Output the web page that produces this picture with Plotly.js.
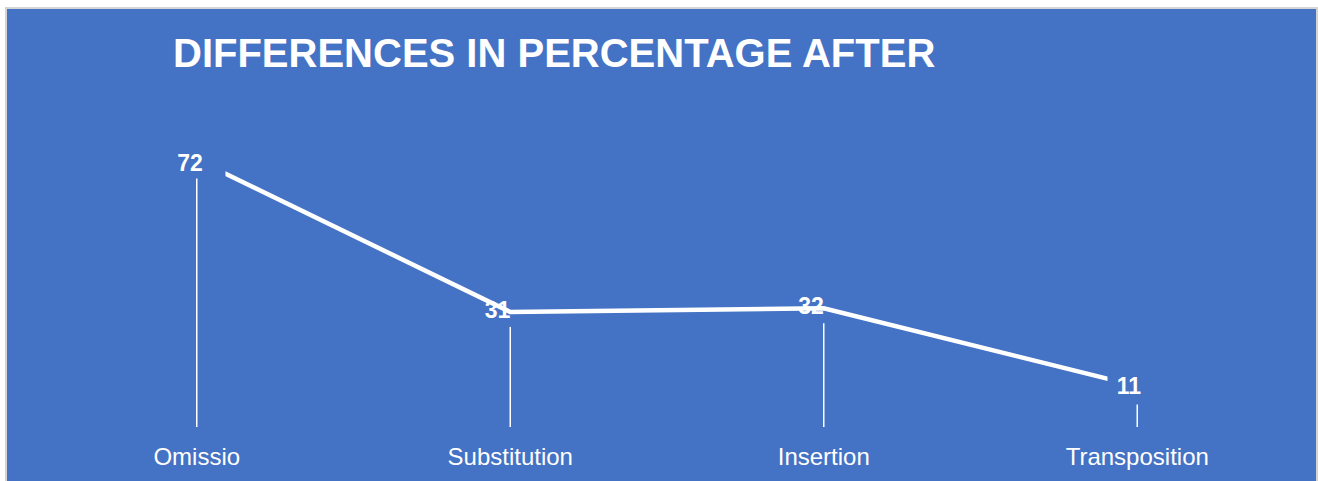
<!DOCTYPE html>
<html>
<head>
<meta charset="utf-8">
<script src="https://cdn.plot.ly/plotly-3.0.1.min.js"></script>
<style>
html,body{margin:0;padding:0;background:#ffffff;}
#chart{width:1318px;height:481px;}
</style>
</head>
<body>
<div id="chart"></div>
<script>
const categories = ["Omissio", "Substitution", "Insertion", "Transposition"];
const values = [72, 31, 32, 11];
const chartTitle = "DIFFERENCES IN PERCENTAGE AFTER";

const BLUE = "#4472C4";
const FONT = "Liberation Sans, Arial, sans-serif";

// labels drawn under the line (middle points) vs. boxed labels on top (end points)
const innerIdx = [1, 2];
const endIdx = [0, categories.length - 1];

const traces = [];

// drop lines from each point to the axis
traces.push({
  x: categories, y: values, type: "scatter", mode: "markers",
  marker: {size: 1, opacity: 0},
  error_y: {type: "data", symmetric: false,
            array: values.map(() => 0), arrayminus: values,
            color: "#ffffff", thickness: 1.5, width: 0},
  hoverinfo: "skip", showlegend: false
});

// label backgrounds for middle points (hide drop line top)
traces.push({
  x: innerIdx.map(i => categories[i]), y: innerIdx.map(i => values[i]),
  type: "scatter", mode: "markers",
  marker: {symbol: "square", size: 30, color: BLUE},
  hoverinfo: "skip", showlegend: false
});

// middle labels
traces.push({
  x: innerIdx.map(i => categories[i]), y: innerIdx.map(i => values[i]),
  type: "scatter", mode: "text",
  text: innerIdx.map(i => String(values[i])),
  textposition: "middle left",
  textfont: {family: FONT, size: 23, color: "#ffffff", weight: "bold"},
  hoverinfo: "skip", showlegend: false
});

// main line
traces.push({
  x: categories, y: values, type: "scatter", mode: "lines",
  line: {color: "#ffffff", width: 4.5},
  hoverinfo: "skip", showlegend: false
});

const boxSizes = [[68, 28, -7, -3], [40, 34, -8, 0]];
const annotations = endIdx.map((i, k) => ({
  x: categories[i], y: values[i], xref: "x", yref: "y",
  text: String(values[i]), showarrow: false,
  xshift: boxSizes[k][2], yshift: boxSizes[k][3],
  width: boxSizes[k][0], height: boxSizes[k][1], borderpad: 1,
  bgcolor: BLUE, align: "center", valign: "middle",
  font: {family: FONT, size: 23, color: "#ffffff", weight: "bold"}
}));

const layout = {
  width: 1318, height: 481,
  margin: {l: 40, r: 24, t: 130, b: 54},
  paper_bgcolor: "#ffffff",
  plot_bgcolor: "rgba(0,0,0,0)",
  hovermode: false,
  showlegend: false,
  title: {
    text: chartTitle,
    font: {family: FONT, size: 40, color: "#ffffff", weight: "bold"},
    xref: "container", yref: "container",
    x: 173 / 1318, xanchor: "left",
    y: 1 - 53 / 481, yanchor: "middle"
  },
  xaxis: {
    type: "category", range: [-0.5, 3.5],
    showgrid: false, zeroline: false, showline: false, ticks: "",
    ticklabelstandoff: 13,
    tickfont: {family: FONT, size: 24, color: "#ffffff"},
    fixedrange: true
  },
  yaxis: {
    range: [0, 80], visible: false, showgrid: false, zeroline: false,
    fixedrange: true
  },
  shapes: [{
    type: "rect", xref: "paper", yref: "paper", layer: "below",
    x0: -34 / 1254, x1: 1277 / 1254, y0: -0.25, y1: 419 / 297,
    fillcolor: BLUE, line: {color: "#d4d4d4", width: 2}
  }],
  annotations: annotations
};

Plotly.newPlot("chart", traces, layout, {displayModeBar: false, staticPlot: true});
</script>
</body>
</html>
